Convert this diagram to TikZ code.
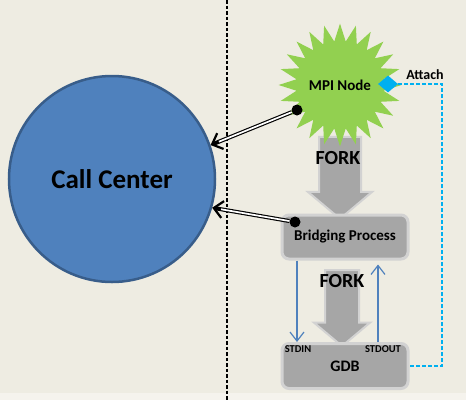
\documentclass[tikz,border=0pt]{standalone}
\usepackage{fontspec}
\setmainfont{Carlito}
\usetikzlibrary{arrows.meta,shapes.geometric,shapes.arrows}

\definecolor{bgbeige}{RGB}{238,236,226}
\definecolor{bglight}{RGB}{245,243,237}
\definecolor{ccblue}{RGB}{79,129,189}
\definecolor{ccborder}{RGB}{56,93,138}
\definecolor{mpigreen}{RGB}{146,208,80}
\definecolor{boxgray}{RGB}{166,166,166}
\definecolor{glowgray}{RGB}{210,210,210}
\definecolor{attachcyan}{RGB}{0,176,240}

\begin{document}
\begin{tikzpicture}[x=1pt,y=-1pt,font=\bfseries,
    proc/.style={rounded corners=7pt,fill=boxgray,draw=glowgray,line width=3pt,
      minimum width=126pt,minimum height=44pt,inner sep=0pt,font=\fontsize{15}{18}\selectfont\bfseries},
    fork/.style={single arrow,rotate=-90,fill=boxgray,draw=glowgray,line width=2pt,
      inner xsep=0pt,single arrow tip angle=100},
    forklbl/.style={font=\fontsize{20}{24}\selectfont\bfseries},
    dot/.style={circle,fill=black,minimum size=11pt,inner sep=0pt},
    report/.style={draw=black,line width=4pt,
      -{Straight Barb[length=9pt,width=17pt,line width=2.2pt]},
      postaction={draw=white,line width=1.7pt,-,shorten >=9pt}},
    pipe/.style={draw=ccblue,line width=1.2pt,-{Straight Barb[length=9pt,width=14pt,line width=1.2pt]}},
    attachline/.style={draw=attachcyan,line width=1.3pt,dash pattern=on 4pt off 2pt}]

    \useasboundingbox (0,0) rectangle (466,400);
    \fill[bgbeige] (0,0) rectangle (466,400);
    \fill[bglight] (0,393) rectangle (466,400);
    \draw[line width=1.5pt,dash pattern=on 3.5pt off 2pt] (227,0) -- (227,400);

    \node[fork,minimum height=82pt,minimum width=62pt,inner ysep=20pt,single arrow head extend=11pt] (fork1) at (340,169) {};
    \node[fork,minimum height=76pt,minimum width=54pt,inner ysep=16pt,single arrow head extend=11pt] (fork2) at (342,301) {};

    \node[star,star points=24,star point ratio=1.4,minimum size=122pt,inner sep=0pt,fill=mpigreen,
      font=\fontsize{15}{18}\selectfont\bfseries] (mpi) at (340,85) {MPI Node};
    \node[circle,fill=ccblue,draw=ccborder,line width=2.5pt,minimum size=206pt,
      font=\fontsize{27}{32}\selectfont\bfseries] (cc) at (112,179) {Call Center};
    \node[proc] (bridge) at (345,237) {Bridging Process};
    \node[proc,minimum height=45pt,font=\fontsize{16}{18}\selectfont\bfseries] (gdb) at (345,366) {GDB};

    \node[font=\fontsize{10.5}{12}\selectfont\bfseries] (stdin) at (298,349) {STDIN};
    \node[font=\fontsize{10.5}{12}\selectfont\bfseries] (stdout) at (383,349) {STDOUT};
    \node[forklbl] (forklbl1) at (338,158) {FORK};
    \node[forklbl] (forklbl2) at (342,281) {FORK};

    \node[diamond,fill=attachcyan,minimum width=20pt,minimum height=17pt,inner sep=0pt] (attach) at (388,84) {};
    \node[font=\fontsize{14}{16}\selectfont\bfseries] (attachlbl) at (425,75) {Attach};
    \coordinate (bend) at (442,84);

    \node[dot] (mpidot) at (297,110) {};
    \node[dot] (bridgedot) at (295,222) {};

    \draw[report] (mpidot) -- (cc.19);
    \draw[report] (bridgedot) -- (cc.-16);

    \draw[pipe] ([xshift=-48pt]bridge.south) -- ([xshift=-48pt]gdb.north);
    \draw[pipe] ([xshift=33pt]gdb.north) -- ([xshift=33pt,yshift=-4pt]bridge.south);

    \draw[attachline] (attach.east) -- (bend) |- (gdb.east);
\end{tikzpicture}
\end{document}
